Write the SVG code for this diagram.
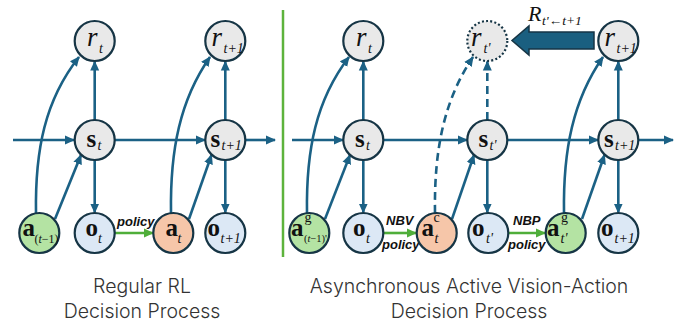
<svg xmlns="http://www.w3.org/2000/svg" width="694" height="328" viewBox="0 0 694 328">
  <style>
    .node { stroke: #163545; stroke-width: 2.2; }
    .gray { fill: #e9e9e9; }
    .blue { fill: #dce8f5; }
    .green { fill: #b4e3a3; }
    .peach { fill: #f6c6a9; }
    .dotted { stroke-dasharray: 2 2.2; }
    .edge { fill: none; stroke: #1b6185; stroke-width: 2.6; }
    .dash { stroke-dasharray: 8 5; }
    .pol { fill: none; stroke: #4fae3a; stroke-width: 2.6; }
    .m { font-family: "Liberation Serif", "DejaVu Serif", serif; fill: #111; }
    .b { font-weight: bold; font-size: 25px; }
    .r { font-style: italic; font-size: 27px; }
    .sub { font-style: italic; font-size: 14px; }
    .sm { font-size: 12px; }
    .sup { font-size: 14px; }
    .lbl { font-family: "Liberation Sans", Arial, sans-serif; font-style: italic; font-weight: bold; font-size: 13px; fill: #111; }
    .cap { font-family: Inter, "Open Sans", sans-serif; font-weight: 300; font-size: 19.5px; fill: #333; text-anchor: middle; }
  </style>
  <defs>
    <marker id="ah" viewBox="0 0 10 10" refX="9" refY="5" markerWidth="10" markerHeight="10" markerUnits="userSpaceOnUse" orient="auto">
      <path d="M0,0.5 L10,5 L0,9.5 z" fill="#1b6185"/>
    </marker>
    <marker id="ahg" viewBox="0 0 10 10" refX="9" refY="5" markerWidth="10" markerHeight="10" markerUnits="userSpaceOnUse" orient="auto">
      <path d="M0,0.5 L10,5 L0,9.5 z" fill="#4fae3a"/>
    </marker>
  </defs>

  <!-- panel divider -->
  <line x1="283" y1="10" x2="283" y2="257" stroke="#5db33c" stroke-width="2.5"/>

  <g id="connectors">
    <!-- left: state chain -->
    <line class="edge" x1="13" y1="140" x2="74" y2="140" marker-end="url(#ah)"/>
    <line class="edge" x1="115" y1="140" x2="205" y2="140" marker-end="url(#ah)"/>
    <line class="edge" x1="246" y1="140" x2="275" y2="140" marker-end="url(#ah)"/>
    <line class="edge" x1="94.7" y1="120" x2="94.7" y2="61.5" marker-end="url(#ah)"/>
    <line class="edge" x1="225.3" y1="120" x2="225.3" y2="61.5" marker-end="url(#ah)"/>
    <line class="edge" x1="94.7" y1="160" x2="94.7" y2="212.5" marker-end="url(#ah)"/>
    <line class="edge" x1="225.3" y1="160" x2="225.3" y2="212.5" marker-end="url(#ah)"/>
    <path class="edge" d="M36,213 C35,150 45,100 79,57" marker-end="url(#ah)"/>
    <path class="edge" d="M171,213 C170,150 180,100 210,57" marker-end="url(#ah)"/>
    <line class="edge" x1="55" y1="219" x2="81" y2="155" marker-end="url(#ah)"/>
    <line class="edge" x1="189" y1="219" x2="211.5" y2="155" marker-end="url(#ah)"/>
    <line class="pol" x1="115" y1="233" x2="153" y2="233" marker-end="url(#ahg)"/>

    <!-- right: state chain -->
    <line class="edge" x1="292" y1="140" x2="343" y2="140" marker-end="url(#ah)"/>
    <line class="edge" x1="383.5" y1="140" x2="467" y2="140" marker-end="url(#ah)"/>
    <line class="edge" x1="507.5" y1="140" x2="598" y2="140" marker-end="url(#ah)"/>
    <line class="edge" x1="638.5" y1="140" x2="673" y2="140" marker-end="url(#ah)"/>
    <line class="edge" x1="363.3" y1="120" x2="363.3" y2="61.5" marker-end="url(#ah)"/>
    <line class="edge dash" x1="487.3" y1="120" x2="487.3" y2="61.5" marker-end="url(#ah)"/>
    <line class="edge" x1="618.3" y1="120" x2="618.3" y2="61.5" marker-end="url(#ah)"/>
    <line class="edge" x1="363.3" y1="160" x2="363.3" y2="212.5" marker-end="url(#ah)"/>
    <line class="edge" x1="487.3" y1="160" x2="487.3" y2="212.5" marker-end="url(#ah)"/>
    <line class="edge" x1="618.3" y1="160" x2="618.3" y2="212.5" marker-end="url(#ah)"/>
    <path class="edge" d="M307,213 C306,150 316,100 349,57" marker-end="url(#ah)"/>
    <path class="edge dash" d="M435,213 C434,150 444,100 473,57" marker-end="url(#ah)"/>
    <path class="edge" d="M564,213 C563,150 573,100 603,57" marker-end="url(#ah)"/>
    <line class="edge" x1="325" y1="219" x2="350" y2="155" marker-end="url(#ah)"/>
    <line class="edge" x1="452" y1="219" x2="474" y2="155" marker-end="url(#ah)"/>
    <line class="edge" x1="582" y1="219" x2="604.5" y2="155" marker-end="url(#ah)"/>
    <line class="pol" x1="384" y1="233" x2="416" y2="233" marker-end="url(#ahg)"/>
    <line class="pol" x1="509" y1="233" x2="545" y2="233" marker-end="url(#ahg)"/>

    <!-- reward redistribution arrow -->
    <polygon points="594,32 529,32 529,26 512,40.5 529,55 529,49 594,49" fill="#1a5f80" stroke="#163545" stroke-width="1.5" stroke-linejoin="miter"/>
  </g>

  <!-- edge labels -->
  <text class="lbl" x="117" y="225.5">policy</text>
  <text class="lbl" x="386" y="225">NBV</text>
  <text class="lbl" x="382" y="249">policy</text>
  <text class="lbl" x="513" y="225">NBP</text>
  <text class="lbl" x="508" y="249">policy</text>
  <text class="m" x="528" y="20.5" font-style="italic" font-size="22">R</text>
  <text class="m" x="542" y="25" font-style="italic" font-size="13.5">t'←t+1</text>

  <!-- left panel nodes -->
  <g id="L_r_t">
    <circle class="node gray" cx="94.7" cy="41" r="20"/>
    <text class="m r" x="87" y="46">r</text><text class="m sub" x="99" y="53">t</text>
  </g>
  <g id="L_r_t1">
    <circle class="node gray" cx="225.3" cy="41" r="20"/>
    <text class="m r" x="211.5" y="46">r</text><text class="m sub" x="223.5" y="53">t+1</text>
  </g>
  <g id="L_s_t">
    <circle class="node gray" cx="94.7" cy="140" r="20"/>
    <text class="m b" x="86.5" y="147">s</text><text class="m sub" x="97.5" y="150">t</text>
  </g>
  <g id="L_s_t1">
    <circle class="node gray" cx="225.3" cy="140" r="20"/>
    <text class="m b" x="210.5" y="147">s</text><text class="m sub" x="221.5" y="150">t+1</text>
  </g>
  <g id="L_a_tm1">
    <circle class="node green" cx="39.3" cy="233" r="20"/>
    <text class="m b" x="22.5" y="236">a</text><text class="m sm" x="34.5" y="243">(<tspan font-style="italic">t</tspan>−1)</text>
  </g>
  <g id="L_o_t">
    <circle class="node blue" cx="94.7" cy="233" r="20"/>
    <text class="m b" x="85.5" y="236">o</text><text class="m sub" x="98" y="243">t</text>
  </g>
  <g id="L_a_t">
    <circle class="node peach" cx="173.3" cy="233" r="20"/>
    <text class="m b" x="165.5" y="236">a</text><text class="m sub" x="177.5" y="243">t</text>
  </g>
  <g id="L_o_t1">
    <circle class="node blue" cx="225.3" cy="233" r="20"/>
    <text class="m b" x="207.5" y="236">o</text><text class="m sub" x="220.5" y="243">t+1</text>
  </g>

  <!-- right panel nodes -->
  <g id="R_r_t">
    <circle class="node gray" cx="363.3" cy="41" r="20"/>
    <text class="m r" x="356" y="46">r</text><text class="m sub" x="368" y="53">t</text>
  </g>
  <g id="R_r_tp">
    <circle class="node gray dotted" cx="487.3" cy="41" r="20"/>
    <text class="m r" x="471" y="46">r</text><text class="m sub" x="483.5" y="53">t'</text>
  </g>
  <g id="R_r_t1">
    <circle class="node gray" cx="618.3" cy="41" r="20"/>
    <text class="m r" x="604.5" y="46">r</text><text class="m sub" x="616.5" y="53">t+1</text>
  </g>
  <g id="R_s_t">
    <circle class="node gray" cx="363.3" cy="140" r="20"/>
    <text class="m b" x="355" y="147">s</text><text class="m sub" x="366" y="150">t</text>
  </g>
  <g id="R_s_tp">
    <circle class="node gray" cx="487.3" cy="140" r="20"/>
    <text class="m b" x="478.5" y="147">s</text><text class="m sub" x="489.5" y="150">t'</text>
  </g>
  <g id="R_s_t1">
    <circle class="node gray" cx="618.3" cy="140" r="20"/>
    <text class="m b" x="604" y="147">s</text><text class="m sub" x="615" y="150">t+1</text>
  </g>
  <g id="R_ag_tm1">
    <circle class="node green" cx="309.3" cy="233" r="20"/>
    <text class="m b" x="291" y="236">a</text><text class="m sup" x="304.5" y="222">g</text><text class="m" font-size="10.5" x="304" y="242">(<tspan font-style="italic">t</tspan>−1)'</text>
  </g>
  <g id="R_o_t">
    <circle class="node blue" cx="363.3" cy="233" r="20"/>
    <text class="m b" x="353" y="236">o</text><text class="m sub" x="366" y="243">t</text>
  </g>
  <g id="R_ac_t">
    <circle class="node peach" cx="436.7" cy="233" r="20"/>
    <text class="m b" x="421.5" y="236">a</text><text class="m sup" x="433.5" y="222">c</text><text class="m sub" x="434.5" y="243">t</text>
  </g>
  <g id="R_o_tp">
    <circle class="node blue" cx="488.3" cy="233" r="20"/>
    <text class="m b" x="472" y="236">o</text><text class="m sub" x="486" y="243">t'</text>
  </g>
  <g id="R_ag_tp">
    <circle class="node green" cx="565.7" cy="233" r="20"/>
    <text class="m b" x="547" y="236">a</text><text class="m sup" x="561" y="222">g</text><text class="m sub" x="560.5" y="243">t'</text>
  </g>
  <g id="R_o_t1">
    <circle class="node blue" cx="618.3" cy="233" r="20"/>
    <text class="m b" x="601" y="236">o</text><text class="m sub" x="614.5" y="243">t+1</text>
  </g>

  <!-- captions -->
  <text class="cap" x="142" y="293">Regular RL</text>
  <text class="cap" x="142" y="318">Decision Process</text>
  <text class="cap" x="469" y="293">Asynchronous Active Vision-Action</text>
  <text class="cap" x="469" y="318">Decision Process</text>
</svg>
